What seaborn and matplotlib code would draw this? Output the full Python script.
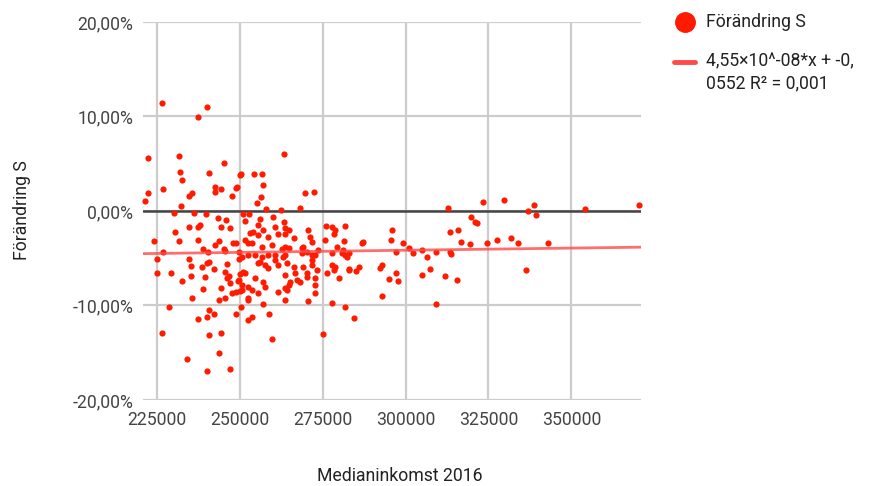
import numpy as np
import matplotlib
matplotlib.use("Agg")
import matplotlib.pyplot as plt
from matplotlib.lines import Line2D
from matplotlib.ticker import FuncFormatter
import seaborn as sns

# Medianinkomst 2016 (kr) and Förändring S (%)
medianinkomst = [
    226600, 240000, 237300, 222200, 231600, 245200, 231900, 240600, 232600, 250100,
    226800, 222200, 221400, 235600, 234600, 242500, 242500, 244300, 248800, 247700,
    232200, 230100, 236300, 239800, 243300, 245800, 234700, 238000, 237300, 244300,
    247100, 230400, 224100, 231600, 237400, 243700, 242400, 247900, 248700, 239000,
    240500, 245200, 245500, 226700, 225100, 234800, 240700, 240000, 235200, 246100,
    249800, 238500, 242200, 224900, 229200, 235300, 245500, 239500, 246700, 246200,
    247100, 249300, 232600, 238800, 244200, 247600, 248900, 250100, 235700, 243700,
    245500, 228600, 240700, 242100, 240100, 237400, 248700, 226400, 240600, 244400,
    243700, 234200, 240100, 247100,
    263300, 250400, 254200, 256600, 249100, 257100, 256300, 255100, 269600, 272400,
    268200, 258000, 262500, 251100, 252900, 251600, 256000, 260000, 263400, 255400,
    257100, 260600, 263700, 264700, 276000, 277900, 278800, 281600, 278400, 253100,
    254100, 255600, 258600, 261600, 263700, 266200, 270500, 271200, 271700, 275700,
    281300, 251600, 253600, 256600, 259600, 262700, 264700, 268700, 270200, 273700,
    279300, 282800, 252600, 258600, 263700, 271700, 280800,
    249600, 254600, 256600, 260600, 263100, 268700, 272700, 277800, 281800, 255600,
    257600, 261600, 264200, 266200, 269200, 271700, 277800, 278800, 251100, 250100,
    258600, 263700, 266700, 270200, 273200, 276300, 282800, 254600, 257100, 249600,
    265200, 267200, 270200, 272700, 279800, 250600, 252600, 257600, 264700, 268200,
    272700, 253600, 255600, 261600, 263700, 272700, 252600, 263700, 270700, 277800,
    281800, 250400, 257100, 258800, 252400, 253600, 284500, 259600, 275000,
    312700, 323400, 319700, 320800, 321500, 295800, 313500, 315800, 287100, 286700,
    295700, 299200, 316700, 319500, 324600, 281100, 282300, 297200, 300900, 302200,
    305000, 306600, 309300, 313500, 313700, 283000, 285000, 286000, 292400, 292900,
    297000, 304800, 307500, 312000, 315600, 295000, 297800, 293000, 309100,
    329800, 338600, 337000, 339300, 354100, 370500, 327500, 331900, 333900, 343000,
    336400,
    252600, 263700, 269200, 250600, 256100, 260600, 271700, 278300, 251600, 250600,
    264200, 252600,
]
forandring_s = [
    11.47, 11.05, 9.99, 5.65, 5.83, 5.08, 4.13, 4.03, 3.25, 3.81,
    2.36, 1.88, 1.09, 1.88, 1.59, 2.57, 2.04, 2.33, 2.47, 1.59,
    0.53, -0.18, -0.18, -0.32, -0.74, -0.95, -1.69, -1.45, -1.66, -1.73,
    -1.83, -2.22, -3.21, -3.15, -3.04, -3.18, -3.57, -3.42, -3.42, -4.03,
    -4.34, -4.03, -4.27, -4.38, -5.12, -5.12, -5.40, -5.54, -5.83, -5.61,
    -5.12, -5.90, -6.18, -6.60, -6.54, -6.89, -6.46, -7.02, -6.85, -7.13,
    -7.60, -7.38, -7.42, -8.26, -8.19, -8.65, -8.55, -8.47, -9.22, -9.46,
    -9.25, -10.20, -10.49, -10.91, -11.26, -11.41, -10.91, -12.96, -13.14, -12.89,
    -15.07, -15.65, -16.92, -16.77,
    6.04, 3.89, 3.95, 3.95, 2.51, 2.79, 1.51, 0.85, 1.88, 1.98,
    0.35, 0.18, 0.11, -0.32, -0.32, -1.03, -0.88, -0.67, -1.13, -1.51,
    -2.01, -1.73, -1.83, -2.01, -1.59, -1.66, -2.01, -1.56, -2.47, -2.36,
    -2.19, -2.54, -2.72, -2.44, -2.44, -2.89, -2.01, -2.72, -3.25, -3.07,
    -3.18, -3.07, -3.36, -3.78, -3.60, -4.06, -3.95, -3.95, -4.31, -4.13,
    -3.78, -4.48, -4.66, -4.66, -4.66, -4.66, -4.48,
    -4.31, -4.66, -4.84, -4.66, -4.84, -4.48, -4.66, -4.48, -4.66, -5.54,
    -5.72, -5.72, -5.54, -5.90, -5.90, -5.72, -5.72, -5.90, -6.43, -6.67,
    -6.07, -6.78, -6.60, -6.60, -6.25, -6.54, -6.25, -7.13, -7.49, -7.31,
    -7.49, -7.31, -6.96, -7.13, -7.13, -7.84, -8.02, -8.02, -7.84, -7.49,
    -7.84, -8.37, -8.72, -8.55, -8.19, -8.72, -9.25, -9.43, -9.53, -9.78,
    -10.14, -10.14, -9.85, -10.91, -11.55, -11.26, -11.30, -13.59, -13.06,
    0.35, 0.99, -0.67, -1.13, -1.30, -2.01, -2.22, -2.01, -3.28, -3.42,
    -3.10, -3.36, -3.32, -3.53, -3.42, -4.13, -4.84, -4.31, -3.95, -4.48,
    -4.13, -4.90, -4.37, -4.31, -4.59, -6.18, -6.32, -5.96, -6.07, -5.72,
    -6.54, -6.78, -6.14, -6.85, -7.34, -7.20, -7.42, -9.00, -9.85,
    1.17, 0.60, 0.03, -0.42, 0.18, 0.64, -3.10, -2.86, -3.42, -3.42,
    -6.28,
    -3.42, -3.78, -3.78, -4.84, -5.37, -5.19, -5.19, -6.25, -6.60, -8.37,
    -8.37, -9.43,
]

# trendline from the chart legend
trend_slope = 4.55e-08
trend_intercept = -0.0552
trend_label = "4,55×10^-08*x + -0,\n0552 R² = 0,001"

x_ticks = [225000, 250000, 275000, 300000, 325000, 350000]
y_ticks = [-20, -10, 0, 10, 20]

sns.set_theme(style="white")
plt.rcParams["font.family"] = ["Roboto", "DejaVu Sans"]

FS = 12.7

fig = plt.figure(figsize=(8.85, 4.86), dpi=100)
ax = fig.add_axes([0.1616, 0.177, 0.5627, 0.7778])

x_min, x_max = 220800, 371000
ax.set_xlim(x_min, x_max)
ax.set_ylim(-20, 20)

ax.set_xticks(x_ticks)
ax.set_yticks(y_ticks)
ax.grid(True, color="#cccccc", linewidth=1.6)
ax.axhline(0, color="#444444", linewidth=1.8, zorder=1)
for s in ax.spines.values():
    s.set_visible(False)

ax.xaxis.set_major_formatter(FuncFormatter(lambda v, p: f"{int(v)}"))
ax.yaxis.set_major_formatter(FuncFormatter(lambda v, p: f"{v:.2f}%".replace(".", ",")))
ax.tick_params(axis="both", length=0, labelsize=FS, labelcolor="#444444")
ax.tick_params(axis="x", pad=8)
ax.tick_params(axis="y", pad=7)

sns.scatterplot(x=medianinkomst, y=forandring_s, ax=ax, color="#ff1a00",
                s=20, linewidth=0, zorder=3, clip_on=False, legend=False)

trend_x = np.linspace(x_min, x_max, 2)
trend_y = (trend_slope * trend_x + trend_intercept) * 100
sns.lineplot(x=trend_x, y=trend_y, ax=ax, color="#ff4a4a", linewidth=2,
             alpha=0.8, zorder=4, legend=False)

ax.set_xlabel("")
ax.set_ylabel("")
fig.text(400 / 885, 1 - 476 / 486, "Medianinkomst 2016", ha="center", va="center",
         fontsize=FS, color="#222222")
fig.text(22 / 885, 1 - 210 / 486, "Förändring S", ha="center", va="center",
         rotation=90, fontsize=FS, color="#222222")

# legend, drawn to the right like the original
fig.add_artist(Line2D([685 / 885], [1 - 22 / 486], marker="o", markersize=14,
                      color="#ff1a00", linestyle="", transform=fig.transFigure))
fig.text(706 / 885, 1 - 22 / 486, "Förändring S", ha="left", va="center",
         fontsize=FS, color="#222222")
fig.add_artist(Line2D([674 / 885, 695 / 885], [1 - 62 / 486, 1 - 62 / 486],
                      color="#ff4a4a", linewidth=3.5, transform=fig.transFigure))
fig.text(706 / 885, 1 - 52 / 486, trend_label, ha="left", va="top",
         fontsize=FS, color="#222222", linespacing=1.3,
         transform=fig.transFigure)

fig.savefig("out.png", dpi=100)
